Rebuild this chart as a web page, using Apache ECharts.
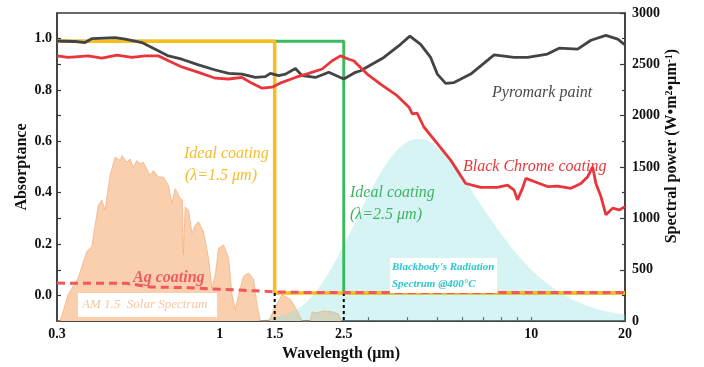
<!DOCTYPE html>
<html><head><meta charset="utf-8">
<script src="https://cdn.jsdelivr.net/npm/echarts@6/dist/echarts.min.js"></script>
<style>html,body{margin:0;padding:0;background:#fff}#c{width:704px;height:367px}</style>
</head><body><div id="c"></div>
<script>
// ---- axis ticks ----
const xTickValues = [0.3, 1, 1.5, 2.5, 10, 20];
const xTickLabels = ['0.3', '1', '1.5', '2.5', '10', '20'];
const xTickMarks = [0.4, 0.5, 0.6, 0.7, 0.8, 0.9, 1, 2, 3, 4, 5, 6, 7, 8, 9, 10];
const absLabels = [0, 0.2, 0.4, 0.6, 0.8, 1.0];
const absTickMarks = [0, 0.1, 0.2, 0.3, 0.4, 0.5, 0.6, 0.7, 0.8, 0.9, 1.0];

// ---- Pyromark paint (absorptance) ----
const pyroWl  = [0.3,0.343,0.369,0.388,0.461,0.497,0.562,0.62,0.684,0.755,0.854,0.967,1.067,1.178,1.301,1.4,1.453,1.545,1.624,1.749,1.838,2.028,2.237,2.44,2.5,2.727,2.83,3.363,3.805,4.077,4.413,4.752,4.994,5.31,5.65,6.391,7.6,8.81,9.73,11.27,12.29,14.09,15.55,17.37,18.95,20];
const pyroAbs = [0.991,0.989,0.985,1.0,1.004,0.998,0.985,0.959,0.933,0.92,0.898,0.878,0.865,0.862,0.849,0.852,0.865,0.856,0.862,0.884,0.856,0.849,0.869,0.849,0.843,0.869,0.875,0.927,0.978,1.01,0.978,0.927,0.862,0.826,0.829,0.862,0.937,0.927,0.927,0.94,0.963,0.959,0.994,1.013,0.998,0.976];

// ---- Black Chrome coating (absorptance) ----
const bcWl  = [0.3,0.326,0.378,0.418,0.467,0.522,0.576,0.635,0.684,0.755,0.854,0.967,1.067,1.178,1.269,1.366,1.471,1.585,1.749,1.93,2.131,2.295,2.44,2.595,2.69,2.973,3.281,3.71,4.05,4.15,4.3,4.52,4.994,5.511,6.16,6.883,7.79,8.39,8.81,9.03,9.37,9.61,10.47,11.27,12.15,13.41,14.44,15.17,15.74,16.13,16.74,17.37,18.25,19.17,20];
const bcAbs = [0.933,0.927,0.933,0.924,0.936,0.927,0.933,0.933,0.914,0.89,0.869,0.846,0.843,0.849,0.826,0.807,0.811,0.83,0.849,0.865,0.882,0.914,0.933,0.92,0.914,0.862,0.823,0.778,0.733,0.707,0.71,0.656,0.591,0.527,0.436,0.421,0.421,0.43,0.41,0.372,0.417,0.456,0.439,0.424,0.426,0.417,0.436,0.462,0.501,0.436,0.385,0.314,0.34,0.333,0.346];

// ---- Ag coating (absorptance) ----
const agWl  = [0.3,0.5,0.55,0.6,0.8,1.0,1.3,1.5,2.0,20];
const agAbs = [0.048,0.047,0.04,0.033,0.03,0.024,0.018,0.014,0.011,0.011];

// ---- Ideal coatings ----
const ideal15Wl  = [0.3,1.5,1.5,20];
const ideal15Abs = [0.99,0.99,0.009,0.009];
const ideal25Wl  = [0.3,2.5,2.5,20];
const ideal25Abs = [0.99,0.99,0.009,0.009];
const cut15Wl = [1.5,1.5], cut15Abs = [0.009,-0.1];
const cut25Wl = [2.5,2.5], cut25Abs = [0.009,-0.1];

// ---- AM 1.5 solar spectrum (spectral power) ----
const solarWl = [0.3,0.307,0.326,0.351,0.374,0.388,0.407,0.418,0.428,0.444,0.461,0.479,0.485,0.503,0.515,0.528,0.541,0.555,0.568,0.597,0.612,0.635,0.659,0.684,0.701,0.719,0.746,0.758,0.764,0.774,0.793,0.814,0.834,0.854,0.886,0.92,0.943,0.967,0.991,1.028,1.067,1.094,1.121,1.149,1.192,1.237,1.284,1.316,1.349,1.435,1.5,1.585,1.685,1.749,1.838,1.95,1.98,2.05,2.15,2.3,2.4,2.46];
const solarPow = [0,0,259,420,678,726,1128,1177,1080,1418,1596,1563,1611,1547,1579,1499,1563,1531,1547,1418,1466,1403,1403,1322,1145,1290,1193,1180,645,1113,1080,855,935,968,871,613,324,452,710,742,613,259,114,259,437,469,404,162,2,0,130,259,211,130,0,0,90,80,100,90,70,0];

// ---- Blackbody radiation @400°C (spectral power) ----
const bbWl  = [1.2,1.4,1.6,1.8,2.0,2.25,2.5,2.75,3.0,3.25,3.5,3.75,4.0,4.3,4.6,5.0,5.5,6.0,6.5,7.0,7.5,8.0,9.0,10,11,12,13,14,15,16,17,18,19,20];
const bbPow = [0,15,60,130,260,480,740,990,1230,1420,1570,1680,1745,1775,1765,1690,1560,1410,1250,1100,970,850,650,500,390,305,240,190,155,125,103,86,73,62];

const L = Math.log10;
const pairs = (xs, ys) => xs.map((x, i) => [L(x), ys[i]]);
const SERIF = '"Liberation Serif", "Times New Roman", serif';
const AX = '#3a3a3a';

function xLabel(v) {
  let best = 0, d = 1e9;
  xTickValues.forEach((t, i) => { const dd = Math.abs(L(t) - v); if (dd < d) { d = dd; best = i; } });
  return xTickLabels[best];
}

const chart = echarts.init(document.getElementById('c'), null, {renderer: 'canvas'});
const lineBase = {type: 'line', symbol: 'none', showSymbol: false, animation: false, silent: true};

chart.setOption({
  animation: false,
  backgroundColor: '#fff',
  grid: {left: 57, right: 79, top: 13, bottom: 43, show: true, borderColor: AX, borderWidth: 1.5, backgroundColor: 'transparent'},
  xAxis: [{
    type: 'value', min: L(0.3), max: L(20),
    axisLine: {show: true, onZero: false, lineStyle: {color: AX, width: 1.5}},
    axisTick: {show: true, inside: true, length: 4, customValues: xTickMarks.map(L), lineStyle: {color: AX, width: 1.2}},
    axisLabel: {show: true, customValues: xTickValues.map(L), formatter: xLabel, margin: 6,
      fontFamily: SERIF, fontWeight: 'bold', fontSize: 14, color: '#111'},
    splitLine: {show: false},
    name: 'Wavelength (μm)', nameLocation: 'middle', nameGap: 22,
    nameTextStyle: {fontFamily: SERIF, fontWeight: 'bold', fontSize: 16, color: '#111'}
  }],
  yAxis: [{
    type: 'value', min: -0.1, max: 1.1, position: 'left',
    axisLine: {show: true, onZero: false, lineStyle: {color: AX, width: 1.5}},
    axisTick: {show: true, inside: true, length: 4, customValues: absTickMarks, lineStyle: {color: AX, width: 1.2}},
    axisLabel: {show: true, customValues: absLabels, formatter: v => v.toFixed(1), margin: 5,
      fontFamily: SERIF, fontWeight: 'bold', fontSize: 14, color: '#111'},
    splitLine: {show: false},
    name: 'Absorptance', nameLocation: 'middle', nameGap: 27, nameRotate: 90, nameMoveOverlap: false,
    nameTextStyle: {fontFamily: SERIF, fontWeight: 'bold', fontSize: 16, color: '#111'}
  }, {
    type: 'value', min: 0, max: 3000, interval: 500, position: 'right',
    axisLine: {show: true, onZero: false, lineStyle: {color: AX, width: 1.5}},
    axisTick: {show: true, inside: true, length: 5, lineStyle: {color: AX, width: 1.2}},
    minorTick: {show: true, splitNumber: 2, length: 3, lineStyle: {color: AX, width: 1.2}},
    axisLabel: {show: true, margin: 7, formatter: v => String(v), fontFamily: SERIF, fontWeight: 'bold', fontSize: 14, color: '#111'},
    splitLine: {show: false}, minorSplitLine: {show: false},
    name: 'Spectral power (W•m{sup|2}•μm{sup|-1})', nameLocation: 'middle', nameGap: 39, nameRotate: 90, nameMoveOverlap: false,
    nameTextStyle: {fontFamily: SERIF, fontWeight: 'bold', fontSize: 16, color: '#111', padding: [0, 0, 0, 42],
      rich: {sup: {fontFamily: SERIF, fontWeight: 'bold', fontSize: 10, color: '#111', verticalAlign: 'top', padding: [0, 0, 6, 0]}}}
  }],
  series: [
    Object.assign({}, lineBase, {name: 'AM 1.5', yAxisIndex: 1, data: pairs(solarWl, solarPow),
      lineStyle: {color: '#f2b386', width: 0.8}, areaStyle: {color: '#f9cfad', opacity: 1}, z: 1}),
    Object.assign({}, lineBase, {name: 'Blackbody', yAxisIndex: 1, data: pairs(bbWl, bbPow), smooth: 0.3,
      lineStyle: {width: 0, color: 'rgba(0,0,0,0)'}, areaStyle: {color: 'rgba(140,224,224,0.5)'}, z: 1}),
    Object.assign({}, lineBase, {name: 'Ideal 2.5', data: pairs(ideal25Wl, ideal25Abs),
      lineStyle: {color: '#3dba60', width: 3}, z: 3}),
    Object.assign({}, lineBase, {name: 'Ideal 1.5', data: pairs(ideal15Wl, ideal15Abs),
      lineStyle: {color: '#f7be1e', width: 3.5}, z: 3}),
    Object.assign({}, lineBase, {name: 'cut15', data: pairs(cut15Wl, cut15Abs),
      lineStyle: {color: '#000', width: 2, type: [3, 3]}, z: 3}),
    Object.assign({}, lineBase, {name: 'cut25', data: pairs(cut25Wl, cut25Abs),
      lineStyle: {color: '#000', width: 2, type: [3, 3]}, z: 3}),
    Object.assign({}, lineBase, {name: 'Ag', data: pairs(agWl, agAbs),
      lineStyle: {color: '#f2575c', width: 3, type: [8, 5]}, z: 4}),
    Object.assign({}, lineBase, {name: 'Pyromark', data: pairs(pyroWl, pyroAbs),
      lineStyle: {color: '#444444', width: 2.8}, z: 4}),
    Object.assign({}, lineBase, {name: 'Black Chrome', data: pairs(bcWl, bcAbs),
      lineStyle: {color: '#e8363b', width: 2.8}, z: 4})
  ],
  graphic: [
    {type: 'rect', z: 100, shape: {x: 78, y: 293, width: 139, height: 24}, style: {fill: '#ffffff'}},
    {type: 'rect', z: 100, shape: {x: 390, y: 258, width: 107, height: 35}, style: {fill: '#ffffff'}},
    {type: 'text', z: 101, x: 82, y: 305, style: {text: 'AM 1.5  Solar Spectrum', font: 'italic 13px ' + SERIF, fill: '#f6c7a0', verticalAlign: 'middle'}},
    {type: 'text', z: 101, x: 392, y: 267, style: {text: "Blackbody's Radiation", font: 'italic bold 11px ' + SERIF, fill: '#2cc6cf', verticalAlign: 'middle'}},
    {type: 'text', z: 101, x: 392, y: 284, style: {text: 'Spectrum @400°C', font: 'italic bold 11px ' + SERIF, fill: '#2cc6cf', verticalAlign: 'middle'}},
    {type: 'text', z: 101, x: 184, y: 154, style: {text: 'Ideal coating', font: 'italic 16px ' + SERIF, fill: '#f5bd2a', verticalAlign: 'middle'}},
    {type: 'text', z: 101, x: 185, y: 176, style: {text: '(λ=1.5 μm)', font: 'italic 16px ' + SERIF, fill: '#f5bd2a', verticalAlign: 'middle'}},
    {type: 'text', z: 101, x: 350, y: 193, style: {text: 'Ideal coating', font: 'italic 16px ' + SERIF, fill: '#3cb464', verticalAlign: 'middle'}},
    {type: 'text', z: 101, x: 350, y: 215, style: {text: '(λ=2.5 μm)', font: 'italic 16px ' + SERIF, fill: '#3cb464', verticalAlign: 'middle'}},
    {type: 'text', z: 101, x: 492, y: 93, style: {text: 'Pyromark paint', font: 'italic 16px ' + SERIF, fill: '#4a4a4a', verticalAlign: 'middle'}},
    {type: 'text', z: 101, x: 463, y: 167, style: {text: 'Black Chrome coating', font: 'italic 16px ' + SERIF, fill: '#e8383d', verticalAlign: 'middle'}},
    {type: 'text', z: 101, x: 133, y: 278, style: {text: 'Ag coating', font: 'italic bold 16px ' + SERIF, fill: '#f05a62', verticalAlign: 'middle'}}
  ]
});
</script></body></html>
